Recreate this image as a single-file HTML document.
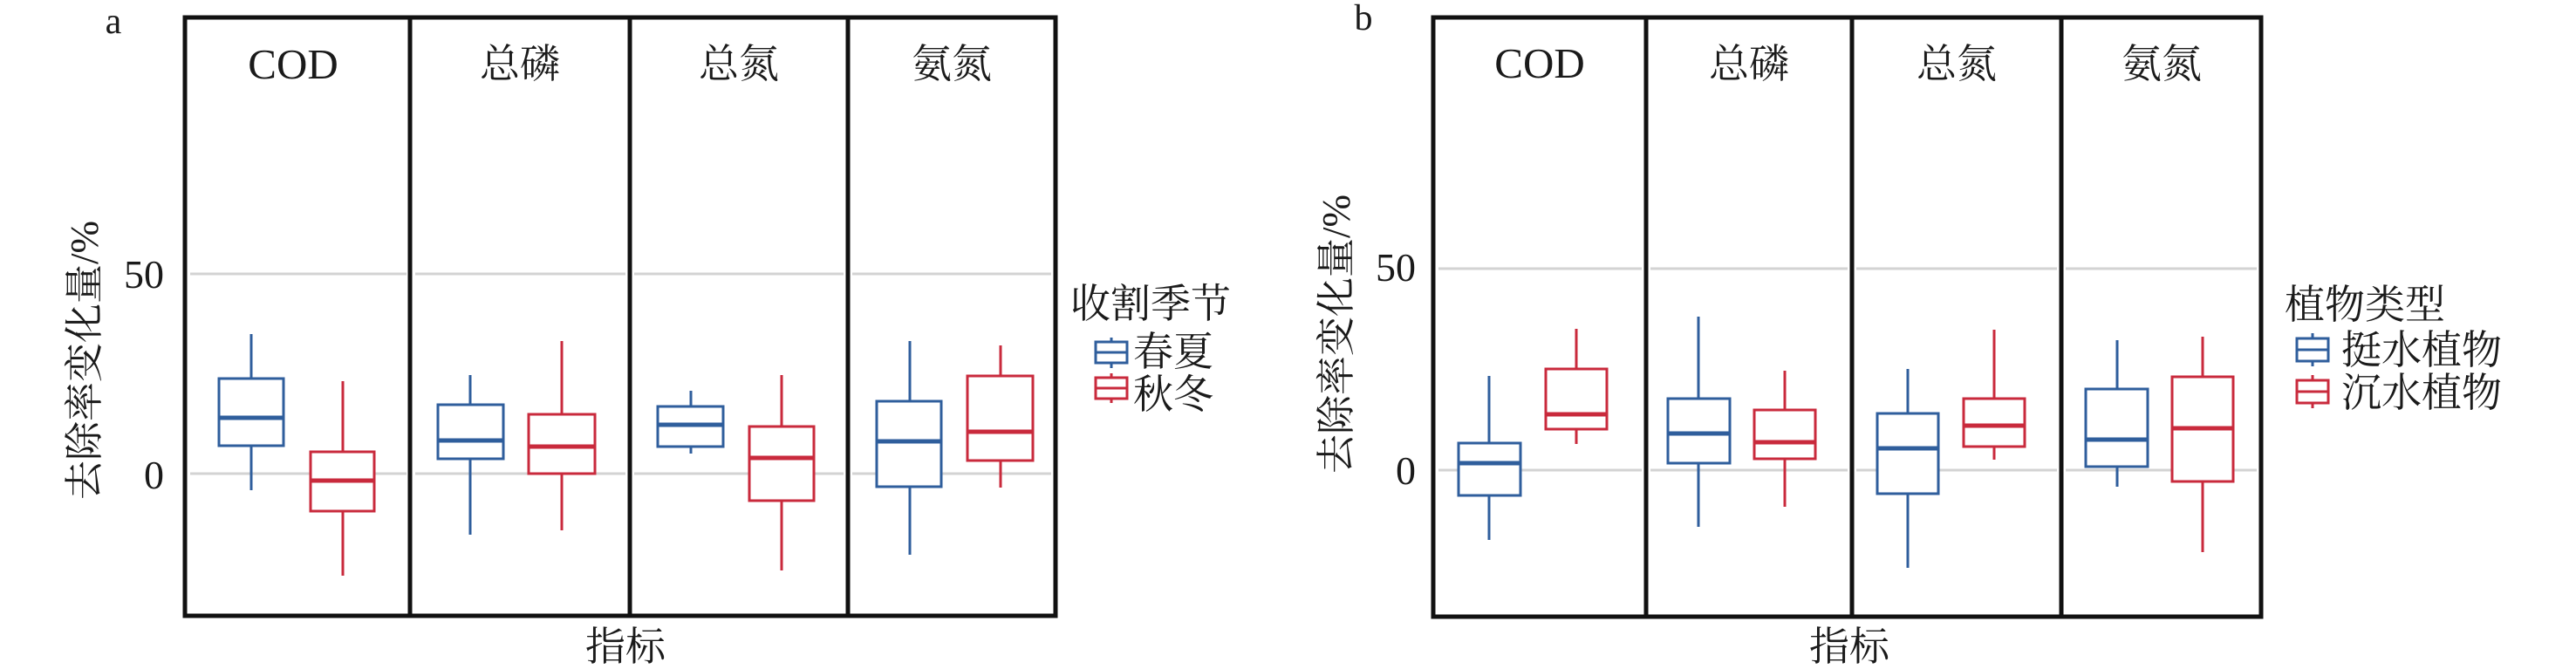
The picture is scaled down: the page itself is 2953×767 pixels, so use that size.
<!DOCTYPE html>
<html><head><meta charset="utf-8"><style>
html,body{margin:0;padding:0;background:#fff;}
svg{display:block}
text{font-family:"Liberation Serif","Noto Serif CJK SC",serif;fill:#1a1a1a;}
</style></head><body>
<svg width="2953" height="767" viewBox="0 0 2953 767" xmlns="http://www.w3.org/2000/svg">
<g stroke="#d3d3d3" stroke-width="3">
<line x1="218" y1="314" x2="466" y2="314"/><line x1="476" y1="314" x2="717" y2="314"/><line x1="727" y1="314" x2="967" y2="314"/><line x1="977" y1="314" x2="1205" y2="314"/>
<line x1="218" y1="543" x2="466" y2="543"/><line x1="476" y1="543" x2="717" y2="543"/><line x1="727" y1="543" x2="967" y2="543"/><line x1="977" y1="543" x2="1205" y2="543"/>
<line x1="1649" y1="308" x2="1882" y2="308"/><line x1="1892" y1="308" x2="2118" y2="308"/><line x1="2128" y1="308" x2="2358" y2="308"/><line x1="2368" y1="308" x2="2587" y2="308"/>
<line x1="1649" y1="539" x2="1882" y2="539"/><line x1="1892" y1="539" x2="2118" y2="539"/><line x1="2128" y1="539" x2="2358" y2="539"/><line x1="2368" y1="539" x2="2587" y2="539"/>
</g>
<g fill="none" stroke="#111" stroke-width="5">
<rect x="212" y="20" width="998" height="686"/>
<line x1="470" y1="20" x2="470" y2="706"/><line x1="722" y1="20" x2="722" y2="706"/><line x1="972" y1="20" x2="972" y2="706"/>
<rect x="1643" y="20" width="949" height="687"/>
<line x1="1887" y1="20" x2="1887" y2="707"/><line x1="2123" y1="20" x2="2123" y2="707"/><line x1="2363" y1="20" x2="2363" y2="707"/>
</g>
<!-- boxes -->
<g fill="#fff" stroke-width="3">
<!-- panel a -->
<g stroke="#2f5e9c">
<line x1="288" y1="383" x2="288" y2="562"/><rect x="251" y="434" width="74" height="77"/><line x1="251" y1="479" x2="325" y2="479" stroke-width="5"/>
<line x1="539" y1="430" x2="539" y2="613"/><rect x="502" y="464" width="75" height="62"/><line x1="502" y1="505" x2="577" y2="505" stroke-width="5"/>
<line x1="792" y1="448" x2="792" y2="520"/><rect x="754" y="466" width="75" height="46"/><line x1="754" y1="487" x2="829" y2="487" stroke-width="5"/>
<line x1="1043" y1="391" x2="1043" y2="636"/><rect x="1005" y="460" width="74" height="98"/><line x1="1005" y1="506" x2="1079" y2="506" stroke-width="5"/>
</g>
<g stroke="#c92a3c">
<line x1="393" y1="437" x2="393" y2="660"/><rect x="356" y="518" width="73" height="68"/><line x1="356" y1="551" x2="429" y2="551" stroke-width="5"/>
<line x1="644" y1="391" x2="644" y2="608"/><rect x="606" y="475" width="76" height="68"/><line x1="606" y1="512" x2="682" y2="512" stroke-width="5"/>
<line x1="896" y1="430" x2="896" y2="654"/><rect x="859" y="489" width="74" height="85"/><line x1="859" y1="525" x2="933" y2="525" stroke-width="5"/>
<line x1="1147" y1="396" x2="1147" y2="559"/><rect x="1109" y="431" width="75" height="97"/><line x1="1109" y1="495" x2="1184" y2="495" stroke-width="5"/>
</g>
<!-- panel b -->
<g stroke="#2f5e9c">
<line x1="1707" y1="431" x2="1707" y2="619"/><rect x="1672" y="508" width="71" height="60"/><line x1="1672" y1="531" x2="1743" y2="531" stroke-width="5"/>
<line x1="1947" y1="363" x2="1947" y2="604"/><rect x="1912" y="457" width="71" height="74"/><line x1="1912" y1="497" x2="1983" y2="497" stroke-width="5"/>
<line x1="2187" y1="423" x2="2187" y2="651"/><rect x="2152" y="474" width="70" height="92"/><line x1="2152" y1="514" x2="2222" y2="514" stroke-width="5"/>
<line x1="2427" y1="390" x2="2427" y2="558"/><rect x="2391" y="446" width="71" height="89"/><line x1="2391" y1="504" x2="2462" y2="504" stroke-width="5"/>
</g>
<g stroke="#c92a3c">
<line x1="1807" y1="377" x2="1807" y2="509"/><rect x="1772" y="423" width="70" height="69"/><line x1="1772" y1="475" x2="1842" y2="475" stroke-width="5"/>
<line x1="2046" y1="425" x2="2046" y2="581"/><rect x="2011" y="470" width="70" height="56"/><line x1="2011" y1="507" x2="2081" y2="507" stroke-width="5"/>
<line x1="2286" y1="378" x2="2286" y2="527"/><rect x="2251" y="457" width="70" height="55"/><line x1="2251" y1="488" x2="2321" y2="488" stroke-width="5"/>
<line x1="2525" y1="386" x2="2525" y2="633"/><rect x="2490" y="432" width="70" height="120"/><line x1="2490" y1="491" x2="2560" y2="491" stroke-width="5"/>
</g>
<!-- legend icons -->
<g stroke="#2f5e9c"><line x1="1274" y1="387" x2="1274" y2="422"/><rect x="1256" y="392" width="36" height="24"/><line x1="1256" y1="404" x2="1292" y2="404"/></g>
<g stroke="#c92a3c"><line x1="1274" y1="428" x2="1274" y2="462"/><rect x="1256" y="433" width="36" height="24"/><line x1="1256" y1="445" x2="1292" y2="445"/></g>
<g stroke="#2f5e9c"><line x1="2651" y1="382" x2="2651" y2="420"/><rect x="2633" y="388" width="36" height="26"/><line x1="2633" y1="401" x2="2669" y2="401"/></g>
<g stroke="#c92a3c"><line x1="2651" y1="430" x2="2651" y2="468"/><rect x="2633" y="436" width="36" height="26"/><line x1="2633" y1="449" x2="2669" y2="449"/></g>
</g>
<!-- text -->
<g font-size="46" text-anchor="middle">
<text x="336" y="90" font-size="49">COD</text><text x="596" y="89">总磷</text><text x="847" y="89">总氮</text><text x="1091" y="89">氨氮</text>
<text x="1765" y="89" font-size="49">COD</text><text x="2005" y="89">总磷</text><text x="2243" y="89">总氮</text><text x="2478" y="89">氨氮</text>
<text x="717" y="757">指标</text><text x="2120" y="757">指标</text>
</g>
<g font-size="46" text-anchor="end">
<text x="188" y="330">50</text><text x="188" y="560">0</text>
<text x="1623" y="322">50</text><text x="1623" y="555">0</text>
</g>
<text x="130" y="38" font-size="42" text-anchor="middle">a</text>
<text x="1563" y="34" font-size="42" text-anchor="middle">b</text>
<text transform="translate(112,413) rotate(-90)" font-size="45" text-anchor="middle">去除率变化量/%</text>
<text transform="translate(1547,383) rotate(-90)" font-size="45" text-anchor="middle">去除率变化量/%</text>
<g font-size="46">
<text x="1227" y="364">收割季节</text>
<text x="1299" y="419">春夏</text>
<text x="1299" y="468">秋冬</text>
<text x="2619" y="365">植物类型</text>
<text x="2684" y="417">挺水植物</text>
<text x="2684" y="466">沉水植物</text>
</g>
</svg>
</body></html>
